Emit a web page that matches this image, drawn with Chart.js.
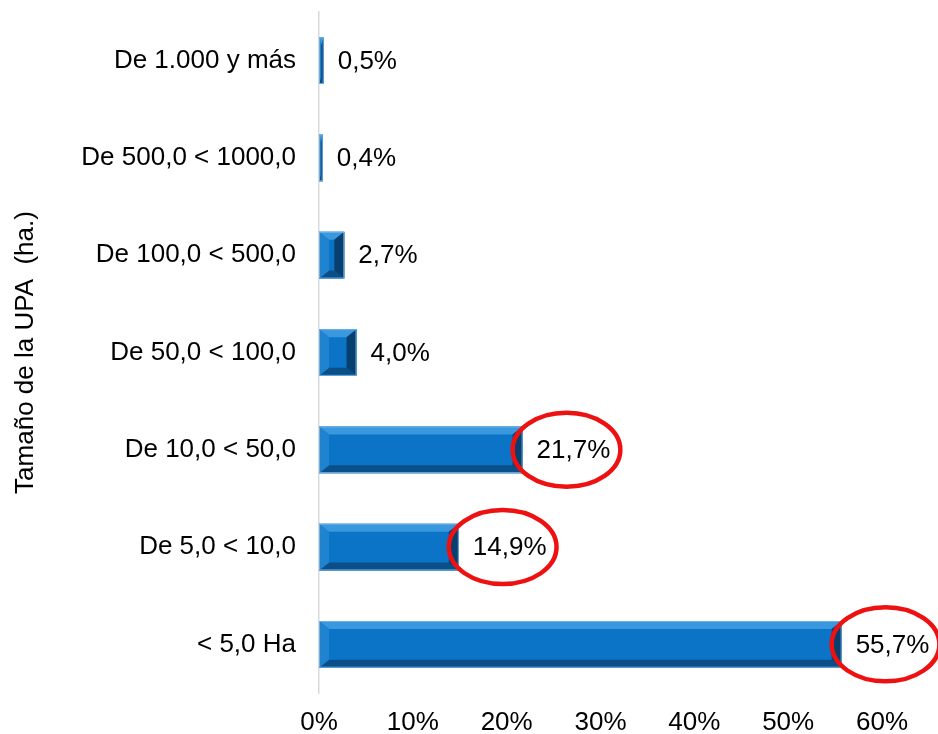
<!DOCTYPE html>
<html>
<head>
<meta charset="utf-8">
<script src="https://cdn.jsdelivr.net/npm/chart.js@4"></script>
<style>
    html, body { margin: 0; padding: 0; background: #fff; }
    #wrap { width: 938px; height: 734px; }
</style>
</head>
<body>
<div id="wrap"><canvas id="chart" width="938" height="734"></canvas></div>
<script>
const CATEGORIES = ['De 1.000 y más', 'De 500,0 < 1000,0', 'De 100,0 < 500,0', 'De 50,0 < 100,0', 'De 10,0 < 50,0', 'De 5,0 < 10,0', '< 5,0 Ha'];
const VALUES = [0.5, 0.4, 2.7, 4.0, 21.7, 14.9, 55.7];
const HIGHLIGHTED = [4, 5, 6];
const X_TICKS = [0, 10, 20, 30, 40, 50, 60];
const Y_TITLE = 'Tamaño de la UPA  (ha.)';

const FONT = 'Liberation Sans, Arial, sans-serif';
const FONT_SIZE = 26;
const pct = v => v.toFixed(1).replace('.', ',') + '%';

// bevelled bars, drawn over the plain fill
const bevel = {
    id: 'bevel',
    afterDatasetsDraw(chart) {
        const ctx = chart.ctx;
        for (const bar of chart.getDatasetMeta(0).data) {
            const { x, y, base, height } = bar.getProps(['x', 'y', 'base', 'height'], true);
            const l = base, r = x, t = y - height / 2, b = y + height / 2;
            const w = r - l;
            if (w < 2) {
                ctx.fillStyle = '#0a4a7e';
                ctx.fillRect(l, t, Math.max(w, 2), height);
                continue;
            }
            const bx = Math.min(10, w / 2), by = Math.min(8, height / 3);
            const quad = (pts, color) => {
                ctx.beginPath();
                ctx.moveTo(pts[0][0], pts[0][1]);
                for (const p of pts.slice(1)) ctx.lineTo(p[0], p[1]);
                ctx.closePath();
                ctx.fillStyle = color;
                ctx.fill();
            };
            quad([[l, t], [r, t], [r - bx, t + by], [l + bx, t + by]], '#3a98de');
            quad([[l, b], [r, b], [r - bx, b - by], [l + bx, b - by]], '#0a4f88');
            quad([[l, t], [l + bx, t + by], [l + bx, b - by], [l, b]], '#1f83d0');
            quad([[r, t], [r - bx, t + by], [r - bx, b - by], [r, b]], '#083f6e');
            ctx.strokeStyle = '#6fb0e4';
            ctx.lineWidth = 1;
            ctx.strokeRect(l + 0.5, t + 0.5, w - 1, height - 1);
        }
    }
};

// value labels, with red rings round the highlighted ones
const valueLabels = {
    id: 'valueLabels',
    afterDatasetsDraw(chart) {
        const ctx = chart.ctx;
        ctx.save();
        ctx.font = FONT_SIZE + 'px ' + FONT;
        ctx.textBaseline = 'middle';
        ctx.textAlign = 'left';
        chart.getDatasetMeta(0).data.forEach((bar, i) => {
            const text = pct(VALUES[i]);
            const tx = bar.x + 14;
            ctx.fillStyle = '#000';
            ctx.fillText(text, tx, bar.y + 1);
            if (HIGHLIGHTED.includes(i)) {
                const tw = ctx.measureText(text).width;
                ctx.beginPath();
                ctx.ellipse(tx + tw / 2 - 7, bar.y, tw / 2 + 17, 37, 0, 0, Math.PI * 2);
                ctx.strokeStyle = '#ee1111';
                ctx.lineWidth = 4.5;
                ctx.stroke();
            }
        });
        ctx.restore();
    }
};

new Chart(document.getElementById('chart'), {
    type: 'bar',
    data: {
        labels: CATEGORIES,
        datasets: [{
            data: VALUES,
            backgroundColor: '#0b74c6',
            borderWidth: 0,
            categoryPercentage: 1,
            barPercentage: 0.48,
        }],
    },
    options: {
        indexAxis: 'y',
        responsive: false,
        animation: false,
        layout: { padding: { top: 12, right: 56, left: 0, bottom: 0 } },
        plugins: { legend: { display: false }, tooltip: { enabled: false } },
        scales: {
            x: {
                min: 0,
                max: 60,
                afterBuildTicks: s => { s.ticks = X_TICKS.map(v => ({ value: v })); },
                afterFit: s => {
                    s.height = 41;
                    s.paddingLeft = 0;
                    s.paddingRight = 0;
                },
                ticks: {
                    callback: v => v + '%',
                    color: '#000',
                    font: { family: FONT, size: FONT_SIZE },
                    padding: 14,
                    maxRotation: 0,
                },
                grid: { display: false, drawTicks: false },
                border: { display: false },
            },
            y: {
                afterFit: s => {
                    s.width = 319;
                    s.paddingTop = 0;
                    s.paddingBottom = 0;
                },
                ticks: {
                    color: '#000',
                    font: { family: FONT, size: FONT_SIZE },
                    padding: 23,
                },
                grid: { display: false, drawTicks: false },
                border: { display: true, color: '#d9d9d9', width: 1.5 },
                title: {
                    display: true,
                    text: Y_TITLE,
                    color: '#000',
                    font: { family: FONT, size: FONT_SIZE },
                    padding: { top: 10, bottom: 0 },
                },
            },
        },
    },
    plugins: [bevel, valueLabels],
});
</script>
</body>
</html>
